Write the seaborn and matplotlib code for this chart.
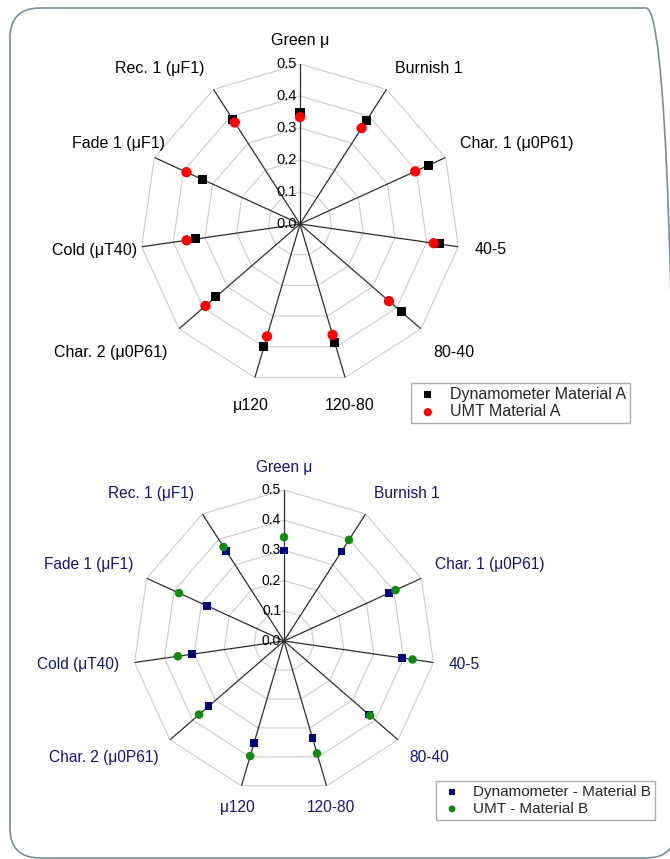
import numpy as np
import pandas as pd
import seaborn as sns
import matplotlib.pyplot as plt
from matplotlib.patches import FancyBboxPatch

# categories, clockwise from the top
categories = ["Green μ", "Burnish 1", "Char. 1 (μ0P61)", "40-5", "80-40", "120-80",
              "μ120", "Char. 2 (μ0P61)", "Cold (μT40)", "Fade 1 (μF1)", "Rec. 1 (μF1)"]

# values
dyno_a = [0.347, 0.383, 0.441, 0.439, 0.419, 0.385, 0.400, 0.348, 0.329, 0.335, 0.390]
umt_a = [0.334, 0.356, 0.396, 0.422, 0.368, 0.361, 0.366, 0.391, 0.358, 0.390, 0.377]
dyno_b = [0.300, 0.352, 0.383, 0.394, 0.372, 0.334, 0.353, 0.330, 0.307, 0.280, 0.354]
umt_b = [0.344, 0.398, 0.406, 0.430, 0.377, 0.388, 0.397, 0.372, 0.355, 0.382, 0.370]
rticks = [0.0, 0.1, 0.2, 0.3, 0.4, 0.5]

sns.set_style("white")
plt.rcParams['font.family'] = ['Liberation Sans', 'DejaVu Sans']


def radar(ax, dyn, umt, c_dyn, c_umt, lab_dyn, lab_umt, txt_color, s_sq, s_ci,
          fs_tick, fs_lab, nudge=None, low_drop=0):
    nudge = nudge or {}
    n = len(categories)
    theta = np.linspace(0, 2 * np.pi, n, endpoint=False)
    ax.set_theta_zero_location("N")
    ax.set_theta_direction(-1)
    ax.set_ylim(0, 0.5)
    ax.set_xticks([])
    ax.set_yticks([])
    ax.grid(False)
    ax.spines['polar'].set_visible(False)
    ax.patch.set_alpha(0)

    # polygon rings and spokes
    for r in rticks[1:]:
        ax.plot(np.append(theta, theta[0]), [r] * (n + 1), color="#cccccc", lw=0.8, zorder=1)
    for t in theta:
        ax.plot([t, t], [0, 0.5], color="#2e2e2e", lw=0.9, zorder=2)

    df = pd.DataFrame({"theta": theta, "dyn": dyn, "umt": umt})
    sns.scatterplot(data=df, x="theta", y="dyn", marker="s", color=c_dyn, s=s_sq,
                    edgecolor="none", label=lab_dyn, ax=ax, zorder=3, clip_on=False)
    sns.scatterplot(data=df, x="theta", y="umt", marker="o", color=c_umt, s=s_ci,
                    edgecolor="none", label=lab_umt, ax=ax, zorder=4, clip_on=False)
    ax.set_xlabel("")
    ax.set_ylabel("")
    if ax.get_legend() is not None:
        ax.get_legend().remove()

    # radial tick labels along the top spoke
    for v in rticks:
        ax.annotate(f"{v:.1f}", xy=(0, v), xytext=(-2, 0), textcoords="offset points",
                    ha="right", va="center", fontsize=fs_tick, color="black")

    # category labels
    for t, name in zip(theta, categories):
        sx, cy = np.sin(t), np.cos(t)
        ha = "center" if abs(sx) < 0.3 else ("left" if sx > 0 else "right")
        va = "bottom" if cy > 0.3 else ("top" if cy < -0.3 else "center")
        dx, dy = nudge.get(name, (0, 0))
        if va == "top":
            dy -= low_drop
        ax.annotate(name, xy=(t, 0.55), xytext=(dx, dy), textcoords="offset points",
                    ha=ha, va=va, fontsize=fs_lab, color=txt_color, annotation_clip=False)


fig = plt.figure(figsize=(6.7, 8.59), dpi=100)

# rounded frame (right and bottom edges run off the page)
frame = FancyBboxPatch((0.10, 0.01), 6.66, 8.50, boxstyle="round,pad=0,rounding_size=0.3",
                       transform=fig.dpi_scale_trans, facecolor="none",
                       edgecolor="#7a8d99", lw=1.2, zorder=0, clip_on=False)
fig.add_artist(frame)

ax1 = fig.add_axes([140 / 670, (859 - 224 - 160) / 859, 320 / 670, 320 / 859], projection="polar")
radar(ax1, dyno_a, umt_a, "black", "#ff0000", "Dynamometer Material A", "UMT Material A",
      "black", 42, 55, 10.5, 11.5,
      nudge={"Fade 1 (μF1)": (18, 0), "Cold (μT40)": (8, -1)}, low_drop=4)
h, l = ax1.get_legend_handles_labels()
fig.legend(h, l, loc="upper left", bbox_to_anchor=(411 / 670, 1 - 383 / 859), frameon=True,
           fancybox=False, edgecolor="#999999", fontsize=11.5, borderpad=0.25,
           labelspacing=0.15, handletextpad=0.6, handlelength=1.6, borderaxespad=0,
           markerscale=0.8)

ax2 = fig.add_axes([133 / 670, (859 - 641 - 151) / 859, 302 / 670, 302 / 859], projection="polar")
radar(ax2, dyno_b, umt_b, "#00007f", "#118a11", "Dynamometer - Material B", "UMT - Material B",
      "#14147a", 30, 38, 10, 11.2)
h, l = ax2.get_legend_handles_labels()
fig.legend(h, l, loc="upper left", bbox_to_anchor=(436 / 670, 1 - 781 / 859), frameon=True,
           fancybox=False, edgecolor="#999999", fontsize=11, borderpad=0.25,
           labelspacing=0.2, handletextpad=0.6, handlelength=1.6, borderaxespad=0,
           markerscale=0.8)

fig.savefig("out.png", dpi=100)
